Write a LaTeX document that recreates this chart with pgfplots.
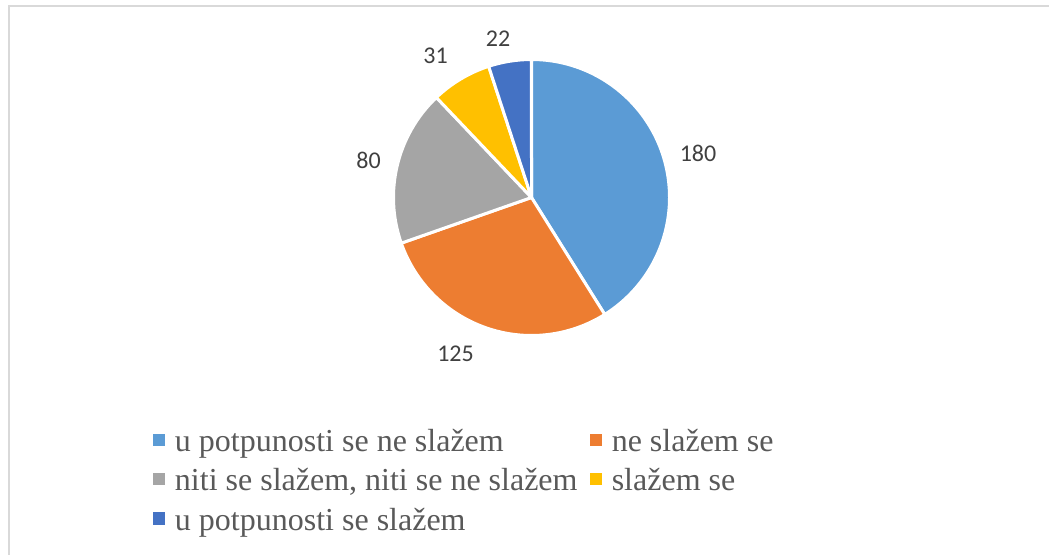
\documentclass[border=0pt]{standalone}
\usepackage{pgfplots}
\pgfplotsset{compat=1.18}
\usepackage{fontspec}
\setmainfont{Liberation Serif}
\newfontfamily\calibri{Carlito}
\definecolor{c1}{HTML}{5B9BD5}
\definecolor{c2}{HTML}{ED7D31}
\definecolor{c3}{HTML}{A5A5A5}
\definecolor{c4}{HTML}{FFC000}
\definecolor{c5}{HTML}{4472C4}
\definecolor{legtxt}{HTML}{595959}
\definecolor{labtxt}{HTML}{404040}
\definecolor{framec}{HTML}{D9D9D9}
\begin{document}
\begin{tikzpicture}
\begin{axis}[
  scale only axis, width=786.75pt, height=415.5pt,
  xmin=0, xmax=1049, ymin=0, ymax=554, y dir=reverse,
  axis lines=none, clip=false,
  legend columns=2,
  legend image code/.code={\path (0pt,0pt); \fill[#1, draw=none] (0pt,4.2pt) rectangle (9.2pt,13.4pt);},
  legend style={draw=none, fill=none, inner sep=0pt, outer sep=0pt,
    at={(axis cs:152.7,427.7)}, anchor=north west,
    font=\fontsize{24}{28.8}\selectfont\color{legtxt},
    row sep=9.9pt,
    nodes={inner sep=0pt, outer sep=0pt},
    cells={anchor=base west},
    /tikz/every odd column/.append style={column sep=7.3pt},
    /tikz/every even column/.append style={column sep=9pt, text height=18pt, text depth=6pt},
  },
]
\addlegendimage{fill=c1}\addlegendentry{u potpunosti se ne slažem}
\addlegendimage{fill=c2}\addlegendentry{ne slažem se}
\addlegendimage{fill=c3}\addlegendentry{niti se slažem, niti se ne slažem}
\addlegendimage{fill=c4}\addlegendentry{slažem se}
\addlegendimage{fill=c5}\addlegendentry{u potpunosti se slažem}
\pgfplotsextra{
  \draw[framec, line width=1.5pt] (axis cs:9,560) -- (axis cs:9,6) -- (axis cs:1049,6);
  \gdef\curang{90}
  % value / colour / label x / label y  (total = 438)
  \foreach \v/\c/\lx/\ly in {180/c1/698/153.3, 125/c2/455.5/354, 80/c3/368.5/160.5, 31/c4/435.5/56, 22/c5/498/38.5}{
    \pgfmathsetmacro\sweep{\v/438*360}
    \pgfmathsetmacro\endang{\curang-\sweep}
    \fill[\c, draw=white, line width=2.25pt, line join=round]
      (axis cs:531.5,197.5) -- ++(\curang:103.5pt)
      arc[start angle=\curang, end angle=\endang, radius=103.5pt] -- cycle;
    \node[inner sep=0pt, text=labtxt, font=\calibri\fontsize{18}{21.6}\selectfont] at (axis cs:\lx,\ly) {\v};
    \global\let\curang\endang
  }
}
\end{axis}
\pgfresetboundingbox
\path[use as bounding box] (current axis.south west) rectangle (current axis.north east);
\end{tikzpicture}
\end{document}
